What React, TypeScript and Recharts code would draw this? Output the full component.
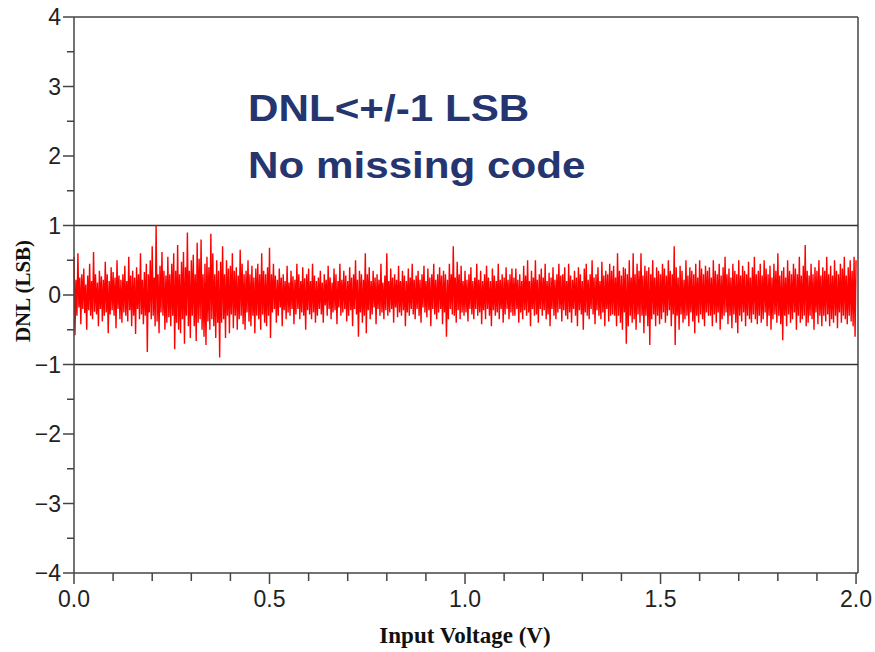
import React from "react";
import { LineChart, Line, XAxis, YAxis, ReferenceLine } from "recharts";

// DNL per code in blocks of 0.125 V (step 0.0025 V)
const dnlSeg0 = [0.55, -0.58, 0.22, -0.3, 0.6, -0.18, 0.25, -0.42, 0.3, -0.2, 0.38, -0.26, 0.15, -0.5, 0.28, -0.22, 0.45, -0.3, 0.2, -0.35, 0.62, -0.24, 0.3, -0.28, 0.18, -0.45, 0.35, -0.2, 0.27, -0.38, 0.22, -0.3, 0.48, -0.25, 0.3, -0.55, 0.2, -0.28, 0.4, -0.22, 0.33, -0.3, 0.25, -0.48, 0.5, -0.2, 0.28, -0.35, 0.22, -0.4];
const dnlSeg1 = [0.3, -0.25, 0.42, -0.3, 0.2, -0.38, 0.55, -0.22, 0.28, -0.45, 0.35, -0.3, 0.25, -0.56, 0.4, -0.2, 0.3, -0.35, 0.6, -0.28, 0.22, -0.42, 0.33, -0.3, 0.45, -0.82, 0.3, -0.25, 0.5, -0.35, 0.7, -0.3, 0.25, -0.45, 1.0, -0.38, 0.3, -0.55, 0.42, -0.25, 0.62, -0.3, 0.35, -0.5, 0.28, -0.4, 0.55, -0.32, 0.3, -0.45];
const dnlSeg2 = [0.45, -0.3, 0.6, -0.78, 0.35, -0.4, 0.72, -0.5, 0.3, -0.55, 0.48, -0.35, 0.62, -0.7, 0.4, -0.3, 0.9, -0.45, 0.35, -0.62, 0.5, -0.3, 0.58, -0.45, 0.3, -0.66, 0.75, -0.4, 0.52, -0.35, 0.8, -0.5, 0.3, -0.6, 0.45, -0.72, 0.55, -0.38, 0.4, -0.5, 0.88, -0.35, 0.6, -0.45, 0.3, -0.62, 0.5, -0.4, 0.35, -0.9];
const dnlSeg3 = [0.48, -0.4, 0.7, -0.35, 0.3, -0.62, 0.5, -0.3, 0.38, -0.55, 0.42, -0.28, 0.6, -0.48, 0.35, -0.3, 0.4, -0.5, 0.28, -0.35, 0.65, -0.3, 0.45, -0.42, 0.3, -0.5, 0.35, -0.25, 0.5, -0.38, 0.3, -0.45, 0.42, -0.3, 0.25, -0.55, 0.38, -0.3, 0.45, -0.35, 0.3, -0.5, 0.6, -0.28, 0.35, -0.4, 0.3, -0.45, 0.4, -0.3];
const dnlSeg4 = [0.68, -0.62, 0.3, -0.25, 0.45, -0.2, 0.28, -0.4, 0.22, -0.3, 0.38, -0.18, 0.25, -0.45, 0.3, -0.22, 0.2, -0.35, 0.42, -0.25, 0.18, -0.3, 0.35, -0.2, 0.27, -0.42, 0.22, -0.28, 0.45, -0.2, 0.3, -0.35, 0.2, -0.25, 0.4, -0.3, 0.24, -0.5, 0.3, -0.22, 0.38, -0.28, 0.2, -0.35, 0.45, -0.25, 0.28, -0.4, 0.2, -0.3];
const dnlSeg5 = [0.25, -0.2, 0.35, -0.28, 0.18, -0.4, 0.3, -0.15, 0.22, -0.3, 0.42, -0.2, 0.25, -0.35, 0.18, -0.25, 0.38, -0.22, 0.3, -0.42, 0.2, -0.18, 0.45, -0.3, 0.22, -0.25, 0.35, -0.2, 0.28, -0.38, 0.2, -0.3, 0.4, -0.22, 0.25, -0.45, 0.3, -0.2, 0.5, -0.28, 0.22, -0.6, 0.35, -0.25, 0.3, -0.4, 0.22, -0.3, 0.6, -0.55];
const dnlSeg6 = [0.3, -0.22, 0.4, -0.35, 0.2, -0.28, 0.35, -0.18, 0.25, -0.42, 0.3, -0.2, 0.22, -0.3, 0.45, -0.25, 0.18, -0.35, 0.28, -0.22, 0.6, -0.3, 0.2, -0.25, 0.38, -0.2, 0.25, -0.4, 0.3, -0.18, 0.22, -0.32, 0.42, -0.25, 0.2, -0.3, 0.35, -0.22, 0.28, -0.45, 0.2, -0.25, 0.38, -0.3, 0.25, -0.2, 0.45, -0.28, 0.22, -0.35];
const dnlSeg7 = [0.28, -0.2, 0.35, -0.3, 0.22, -0.4, 0.3, -0.18, 0.42, -0.25, 0.2, -0.32, 0.38, -0.22, 0.25, -0.45, 0.3, -0.2, 0.45, -0.28, 0.22, -0.35, 0.3, -0.25, 0.4, -0.2, 0.28, -0.42, 0.35, -0.25, 0.3, -0.6, 0.22, -0.35, 0.45, -0.2, 0.3, -0.28, 0.7, -0.3, 0.25, -0.4, 0.48, -0.22, 0.3, -0.35, 0.42, -0.25, 0.2, -0.3];
const dnlSeg8 = [0.35, -0.25, 0.22, -0.38, 0.3, -0.2, 0.4, -0.28, 0.2, -0.35, 0.25, -0.2, 0.45, -0.3, 0.22, -0.25, 0.35, -0.42, 0.2, -0.22, 0.3, -0.35, 0.42, -0.2, 0.25, -0.3, 0.2, -0.45, 0.38, -0.22, 0.28, -0.3, 0.2, -0.25, 0.45, -0.35, 0.22, -0.2, 0.3, -0.4, 0.25, -0.28, 0.4, -0.2, 0.22, -0.35, 0.3, -0.25, 0.38, -0.3];
const dnlSeg9 = [0.25, -0.3, 0.38, -0.2, 0.22, -0.4, 0.3, -0.25, 0.2, -0.35, 0.42, -0.22, 0.28, -0.3, 0.5, -0.25, 0.2, -0.45, 0.35, -0.2, 0.25, -0.3, 0.5, -0.28, 0.22, -0.4, 0.3, -0.2, 0.38, -0.3, 0.25, -0.22, 0.45, -0.35, 0.2, -0.28, 0.32, -0.45, 0.25, -0.2, 0.4, -0.3, 0.22, -0.35, 0.3, -0.25, 0.45, -0.2, 0.28, -0.38];
const dnlSeg10 = [0.3, -0.22, 0.4, -0.3, 0.2, -0.35, 0.45, -0.25, 0.28, -0.4, 0.22, -0.2, 0.35, -0.3, 0.25, -0.45, 0.4, -0.22, 0.3, -0.28, 0.2, -0.5, 0.38, -0.25, 0.45, -0.3, 0.22, -0.35, 0.3, -0.2, 0.5, -0.28, 0.25, -0.42, 0.3, -0.22, 0.4, -0.3, 0.2, -0.35, 0.48, -0.25, 0.28, -0.45, 0.35, -0.2, 0.3, -0.38, 0.45, -0.3];
const dnlSeg11 = [0.35, -0.28, 0.42, -0.3, 0.25, -0.45, 0.6, -0.3, 0.35, -0.4, 0.28, -0.5, 0.4, -0.25, 0.38, -0.7, 0.3, -0.45, 0.5, -0.3, 0.25, -0.4, 0.6, -0.35, 0.3, -0.5, 0.45, -0.28, 0.35, -0.4, 0.6, -0.3, 0.28, -0.55, 0.42, -0.3, 0.35, -0.45, 0.4, -0.72, 0.3, -0.35, 0.5, -0.28, 0.25, -0.45, 0.4, -0.3, 0.35, -0.42];
const dnlSeg12 = [0.3, -0.35, 0.45, -0.25, 0.38, -0.4, 0.28, -0.3, 0.5, -0.22, 0.35, -0.45, 0.3, -0.28, 0.7, -0.72, 0.4, -0.3, 0.25, -0.5, 0.42, -0.28, 0.35, -0.4, 0.22, -0.35, 0.5, -0.3, 0.28, -0.45, 0.4, -0.25, 0.35, -0.38, 0.3, -0.55, 0.45, -0.3, 0.25, -0.4, 0.5, -0.28, 0.38, -0.35, 0.3, -0.45, 0.42, -0.25, 0.35, -0.3];
const dnlSeg13 = [0.4, -0.3, 0.25, -0.45, 0.5, -0.28, 0.35, -0.4, 0.3, -0.25, 0.45, -0.5, 0.28, -0.35, 0.4, -0.3, 0.55, -0.25, 0.3, -0.42, 0.38, -0.3, 0.25, -0.48, 0.45, -0.28, 0.35, -0.4, 0.3, -0.55, 0.5, -0.3, 0.28, -0.38, 0.42, -0.25, 0.35, -0.45, 0.3, -0.3, 0.48, -0.35, 0.25, -0.4, 0.4, -0.28, 0.55, -0.35, 0.3, -0.42];
const dnlSeg14 = [0.35, -0.3, 0.45, -0.4, 0.28, -0.35, 0.5, -0.25, 0.38, -0.45, 0.3, -0.3, 0.42, -0.5, 0.25, -0.35, 0.45, -0.28, 0.35, -0.4, 0.6, -0.3, 0.28, -0.42, 0.35, -0.65, 0.4, -0.3, 0.25, -0.45, 0.5, -0.28, 0.35, -0.4, 0.3, -0.35, 0.45, -0.25, 0.38, -0.5, 0.3, -0.3, 0.55, -0.4, 0.28, -0.35, 0.42, -0.3, 0.72, -0.45];
const dnlSeg15 = [0.35, -0.4, 0.28, -0.3, 0.45, -0.35, 0.3, -0.5, 0.4, -0.25, 0.35, -0.42, 0.5, -0.3, 0.28, -0.45, 0.4, -0.3, 0.35, -0.38, 0.55, -0.28, 0.3, -0.45, 0.42, -0.35, 0.28, -0.4, 0.5, -0.3, 0.35, -0.48, 0.3, -0.25, 0.45, -0.4, 0.38, -0.3, 0.55, -0.35, 0.28, -0.42, 0.4, -0.3, 0.5, -0.38, 0.35, -0.45, 0.55, -0.6, 0.5];

const voltStep = 0.0025;
const xTicks = [0, 0.1, 0.2, 0.3, 0.4, 0.5, 0.6, 0.7, 0.8, 0.9, 1.0, 1.1, 1.2, 1.3, 1.4, 1.5, 1.6, 1.7, 1.8, 1.9, 2.0];
const yTicks = [-4, -3.5, -3, -2.5, -2, -1.5, -1, -0.5, 0, 0.5, 1, 1.5, 2, 2.5, 3, 3.5, 4];
const limitLines = [1, -1];

const dnl = [
    ...dnlSeg0, ...dnlSeg1, ...dnlSeg2, ...dnlSeg3, ...dnlSeg4, ...dnlSeg5, ...dnlSeg6, ...dnlSeg7,
    ...dnlSeg8, ...dnlSeg9, ...dnlSeg10, ...dnlSeg11, ...dnlSeg12, ...dnlSeg13, ...dnlSeg14, ...dnlSeg15,
];
const data = dnl.map((v, i) => ({ v: Number((i * voltStep).toFixed(4)), dnl: v }));

const SANS = "'Liberation Sans', Arial, Helvetica, sans-serif";
const SERIF = "'Liberation Serif', 'Times New Roman', serif";
const AXIS = "#444";

const XTick = (props: any) => {
    const { x, y, payload } = props;
    const val = payload.value;
    const major = Math.abs(val * 2 - Math.round(val * 2)) < 1e-6;
    return (
        <g>
            <line x1={x} x2={x} y1={y} y2={y + (major ? 11 : 8)} stroke={AXIS} strokeWidth={1.5} />
            {major && (
                <text x={x} y={y + 34} textAnchor="middle" fontSize={23} fontFamily={SANS} fill="#222">
                    {val.toFixed(1)}
                </text>
            )}
        </g>
    );
};

const YTick = (props: any) => {
    const { x, y, payload } = props;
    const val = payload.value;
    const major = Number.isInteger(val);
    return (
        <g>
            <line x1={x} x2={x - (major ? 11 : 7)} y1={y} y2={y} stroke={AXIS} strokeWidth={1.5} />
            {major && (
                <text x={x - 13} y={y} dy="0.36em" textAnchor="end" fontSize={23} fontFamily={SANS} fill="#222">
                    {val < 0 ? "\u2212" + Math.abs(val) : String(val)}
                </text>
            )}
        </g>
    );
};

export default function App() {
    return (
        <div style={{ position: "absolute", left: 0, top: 0, width: 875, height: 652, background: "#fff" }}>
            <LineChart width={875} height={652} data={data} margin={{ top: 17, right: 17, left: 0, bottom: 0 }}>
                <XAxis
                    dataKey="v"
                    type="number"
                    domain={[0, 2.005]}
                    ticks={xTicks}
                    interval={0}
                    height={79}
                    tickSize={0}
                    tickMargin={0}
                    tickLine={false}
                    tick={<XTick />}
                    axisLine={{ stroke: AXIS, strokeWidth: 1.5 }}
                    label={() => (
                        <text x={465} y={643} textAnchor="middle" fontSize={23} fontWeight="bold" fontFamily={SERIF} fill="#111">
                            Input Voltage (V)
                        </text>
                    )}
                />
                <YAxis
                    type="number"
                    domain={[-4, 4]}
                    ticks={yTicks}
                    interval={0}
                    width={74}
                    tickSize={0}
                    tickMargin={0}
                    tickLine={false}
                    tick={<YTick />}
                    axisLine={{ stroke: AXIS, strokeWidth: 1.5 }}
                    label={() => (
                        <text x={23} y={291} transform="rotate(-90 23 291)" textAnchor="middle" dominantBaseline="central" fontSize={21} fontWeight="bold" fontFamily={SERIF} fill="#111">
                            DNL (LSB)
                        </text>
                    )}
                />
                <ReferenceLine y={4} stroke={AXIS} strokeWidth={1.5} />
                <ReferenceLine x={2.005} stroke={AXIS} strokeWidth={1.5} />
                {limitLines.map((l) => (
                    <ReferenceLine key={l} y={l} stroke="#333" strokeWidth={1.3} />
                ))}
                <Line type="linear" dataKey="dnl" stroke="#ff0000" strokeWidth={1.4} dot={false} isAnimationActive={false} />
            </LineChart>
            <div
                style={{
                    position: "absolute",
                    left: 248,
                    top: 80,
                    fontFamily: SANS,
                    fontWeight: "bold",
                    fontSize: 37,
                    lineHeight: "57px",
                    color: "#253570",
                    transform: "scaleX(1.14)",
                    transformOrigin: "left top",
                    whiteSpace: "nowrap",
                }}
            >
                <div>DNL&lt;+/-1 LSB</div>
                <div>No missing code</div>
            </div>
        </div>
    );
}
